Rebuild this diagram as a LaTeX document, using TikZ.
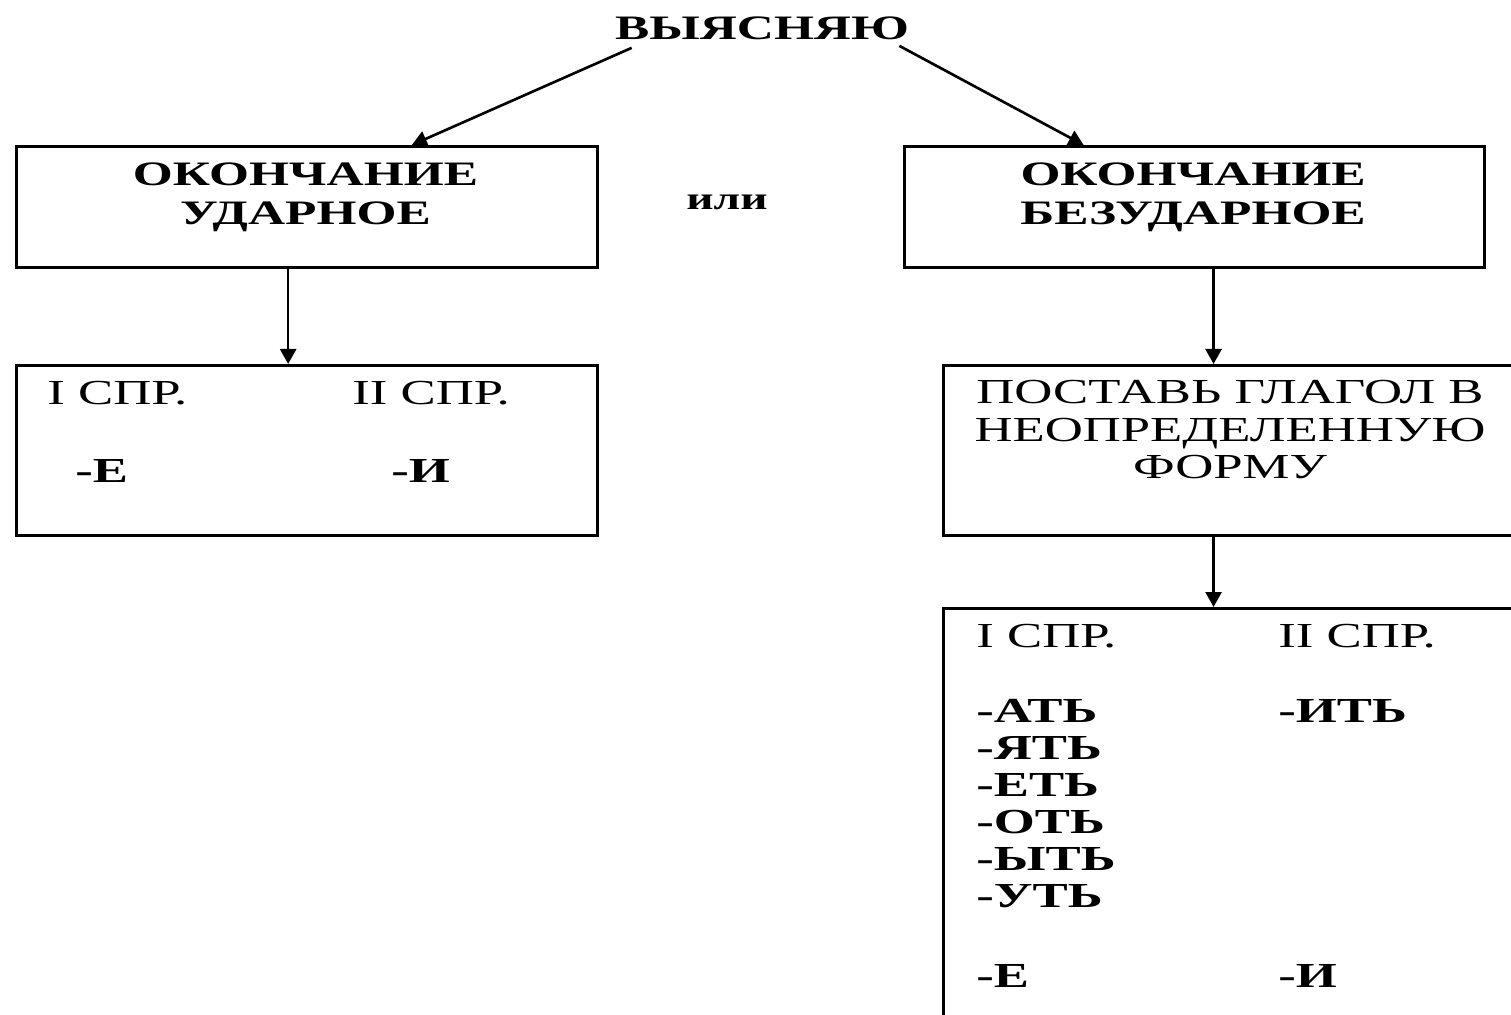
\documentclass[tikz,border=0pt]{standalone}
\usepackage{fontspec}
\setmainfont{Liberation Serif}[FakeStretch=1.5]
\usetikzlibrary{calc,positioning,arrows.meta}

\begin{document}
\begin{tikzpicture}[box/.style={draw,line width=1.5pt,minimum width=11.62cm,minimum height=2.42cm,anchor=north west,inner sep=0pt},
  txt/.style={inner sep=0pt,font=\fontsize{20}{21.5}\selectfont},
  btxt/.style={inner sep=0pt,font=\fontsize{20}{21}\selectfont\bfseries},
  arr/.style={-{Triangle[length=0.3cm,width=0.32cm]},line width=1.5pt}]
              \useasboundingbox (0,0) rectangle (30.22,-20.30);
              \clip (0,0) rectangle (30.22,-20.30);

              \node[txt,font=\fontsize{19.5}{22}\selectfont\bfseries] (vys) at (15.24,-0.56) {ВЫЯСНЯЮ};

              \node[box] (ud) at (0.30,-2.90) {};
              \node[box,minimum width=11.60cm] (bud) at (18.06,-2.90) {};
              \node[btxt,font=\fontsize{19.5}{22.7}\selectfont\bfseries,align=center,anchor=base] (udt) at (6.11,-4.50) {ОКОНЧАНИЕ\\УДАРНОЕ};
              \node[btxt,font=\fontsize{19.5}{22.7}\selectfont\bfseries,align=center,anchor=base] (budt) at (23.86,-4.50) {ОКОНЧАНИЕ\\БЕЗУДАРНОЕ};
              \node[btxt,font=\fontsize{18}{21}\selectfont\bfseries,anchor=base] (ili) at (14.54,-4.20) {или};

              % ударное
              \node[box,minimum height=3.40cm] (ud1) at (0.30,-7.28) {};
              \node[txt,anchor=base west] (ud1a) at (0.94,-8.10) {I СПР.};
              \node[txt,anchor=base west] (ud1b) at (7.04,-8.10) {II СПР.};
              \node[btxt,anchor=base west] (ud1c) at (1.50,-9.64) {-Е};
              \node[btxt,anchor=base west] (ud1d) at (7.82,-9.64) {-И};

              % безударное
              \node[box,minimum width=11.50cm,minimum height=3.40cm] (inf) at (18.84,-7.28) {};
              \node[txt,align=center,anchor=base] (inft) at (24.60,-9.58) {ПОСТАВЬ ГЛАГОЛ В\\НЕОПРЕДЕЛЕННУЮ\\ФОРМУ};
              \node[box,minimum width=11.50cm,minimum height=9cm] (bud1) at (18.84,-12.14) {};
              \node[txt,anchor=base west] (bud1a) at (19.52,-12.94) {I СПР.};
              \node[txt,anchor=base west] (bud1b) at (25.56,-12.94) {II СПР.};
              \node[btxt,align=left,anchor=base west] (bud1c) at (19.52,-18.14) {-АТЬ\\-ЯТЬ\\-ЕТЬ\\-ОТЬ\\-ЫТЬ\\-УТЬ};
              \node[btxt,anchor=base west] (bud1d) at (25.56,-14.44) {-ИТЬ};
              \node[btxt,anchor=base west] (bud1e) at (19.52,-19.74) {-Е};
              \node[btxt,anchor=base west] (bud1f) at (25.56,-19.74) {-И};

              \draw[arr] ([shift={(0.34,-0.16)}]vys.south west) -- ($(ud.north west)!0.68!(ud.north east)$);
              \draw[arr] ([shift={(-0.20,-0.12)}]vys.south east) -- ($(bud.north west)!0.31!(bud.north east)$);
              \coordinate (p1) at ($(ud.south west)!0.468!(ud.south east)$);
              \coordinate (p2) at ($(bud.south west)!0.533!(bud.south east)$);
              \draw[arr] (p1) -- (p1 |- ud1.north);
              \draw[arr] (p2) -- (p2 |- inf.north);
              \draw[arr] (p2 |- inf.south) -- (p2 |- bud1.north);
            \end{tikzpicture}
\end{document}
